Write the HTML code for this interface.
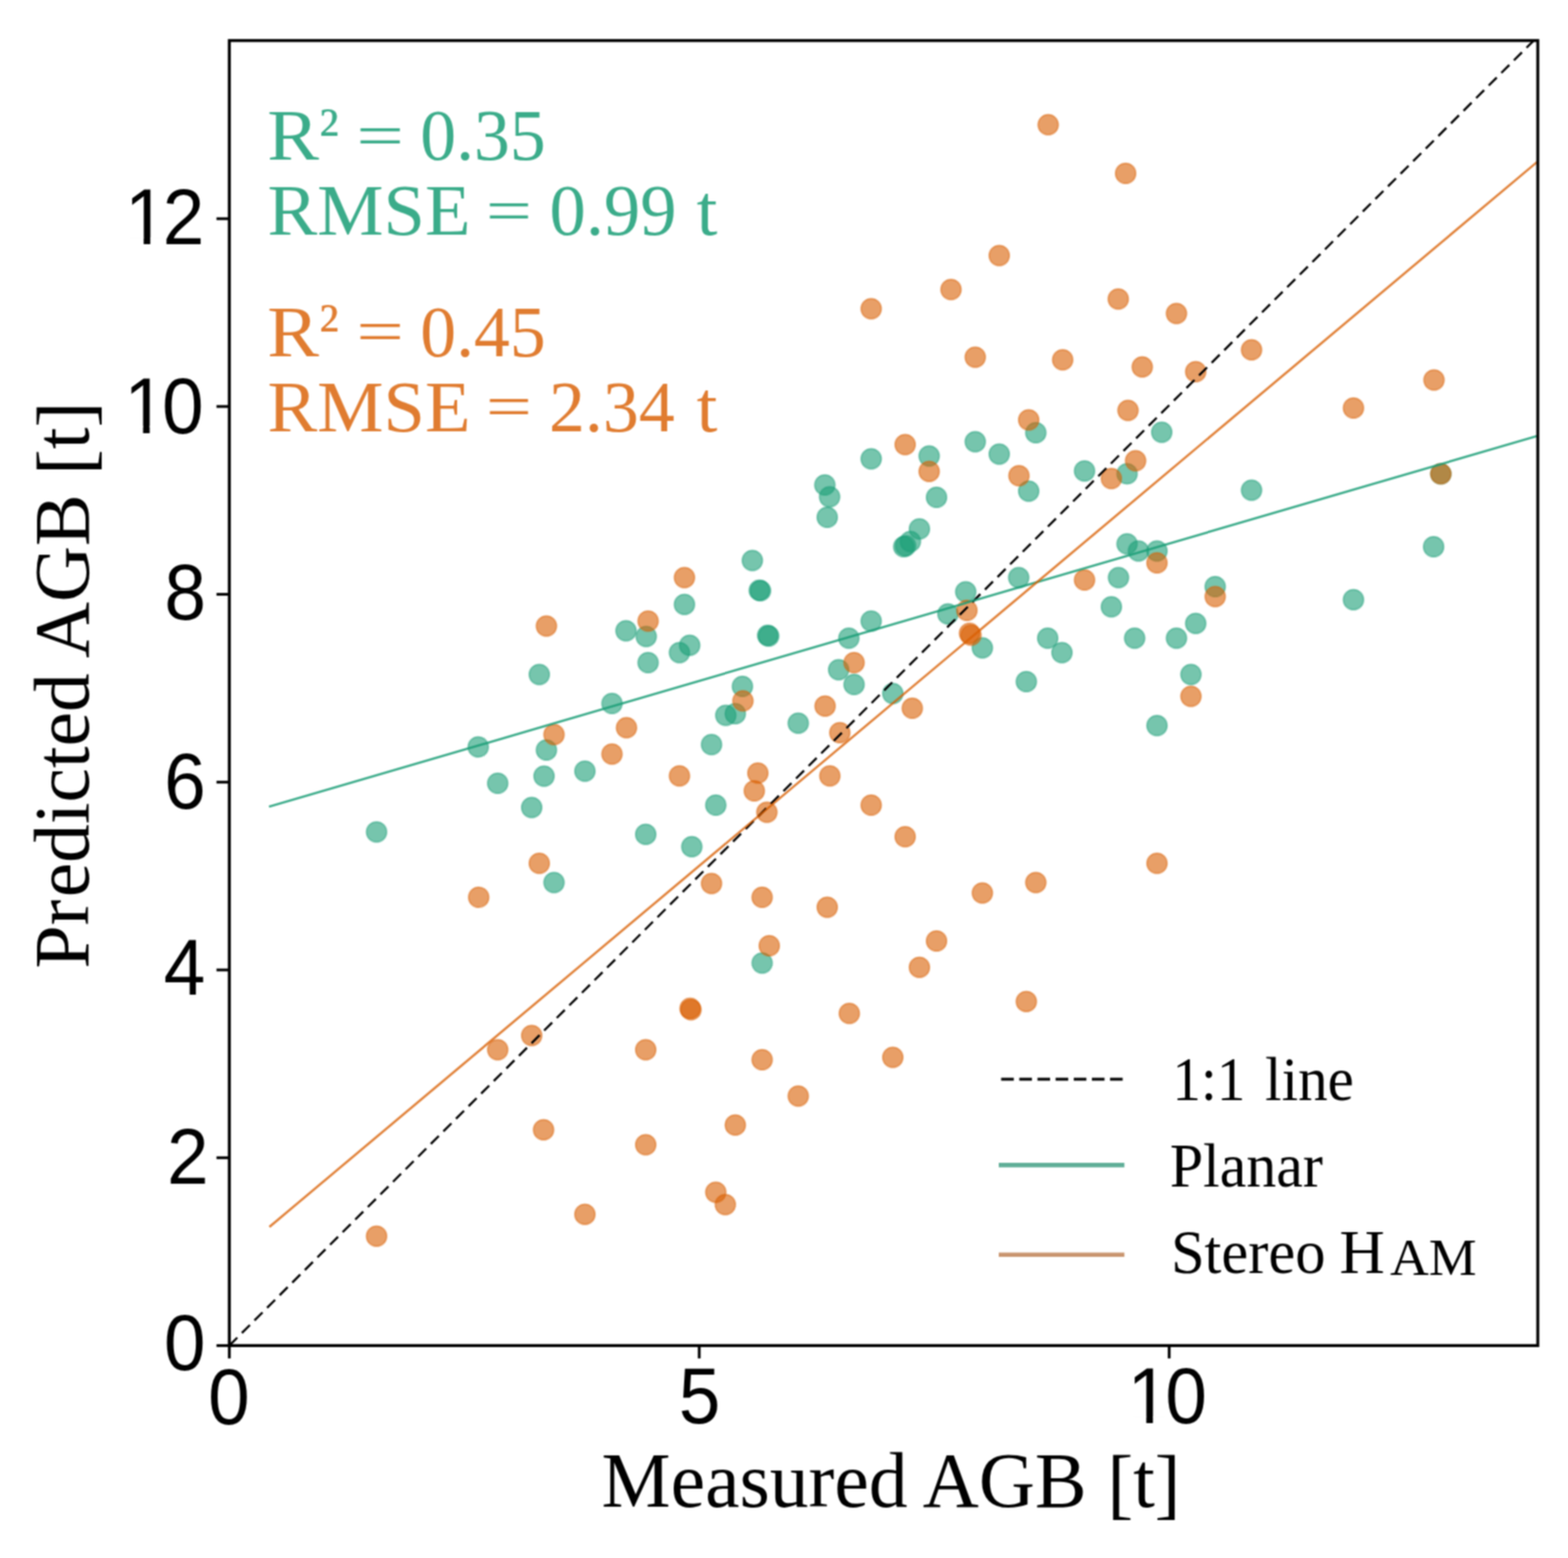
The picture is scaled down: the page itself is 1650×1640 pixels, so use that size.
<!DOCTYPE html>
<html lang="en"><head><meta charset="utf-8">
<title>Predicted vs Measured AGB</title>
<style>
html,body{margin:0;padding:0;background:#fff;}
body{width:1650px;height:1640px;overflow:hidden;}
svg{display:block;}
.tick{font-family:"Liberation Sans",sans-serif;font-size:82.5px;fill:#000;}
.ser{font-family:"Liberation Serif",serif;}
</style></head><body>
<svg xmlns="http://www.w3.org/2000/svg" width="1650" height="1640" viewBox="0 0 1650 1640">
<rect x="0" y="0" width="1650" height="1640" fill="#ffffff"/>
<defs><clipPath id="ax"><rect x="241.3" y="42.7" width="1376.9" height="1373.7"/></clipPath>
<filter id="soft" x="0" y="0" width="1650" height="1640" filterUnits="userSpaceOnUse" color-interpolation-filters="sRGB"><feConvolveMatrix order="3" kernelMatrix="1 2 1 2 4 2 1 2 1" divisor="16" edgeMode="duplicate" preserveAlpha="true"/></filter></defs>
<g filter="url(#soft)">
<rect x="0" y="0" width="1650" height="1640" fill="#ffffff"/>
<g clip-path="url(#ax)">
<g fill="#1b9e77" fill-opacity="0.6" stroke="#1b9e77" stroke-opacity="0.4" stroke-width="1.7">
<circle cx="396.25" cy="875.75" r="10.7"/>
<circle cx="503.25" cy="786.25" r="10.7"/>
<circle cx="523.75" cy="824.5" r="10.7"/>
<circle cx="559.5" cy="850" r="10.7"/>
<circle cx="567.5" cy="710" r="10.7"/>
<circle cx="575" cy="789.5" r="10.7"/>
<circle cx="572.5" cy="817" r="10.7"/>
<circle cx="583" cy="929" r="10.7"/>
<circle cx="615.5" cy="811.75" r="10.7"/>
<circle cx="644" cy="740.5" r="10.7"/>
<circle cx="658.75" cy="664" r="10.7"/>
<circle cx="680" cy="670" r="10.7"/>
<circle cx="682" cy="697.5" r="10.7"/>
<circle cx="679.5" cy="878.25" r="10.7"/>
<circle cx="715" cy="687" r="10.7"/>
<circle cx="725.75" cy="679.25" r="10.7"/>
<circle cx="720.25" cy="636.25" r="10.7"/>
<circle cx="728" cy="891.25" r="10.7"/>
<circle cx="748.75" cy="783.75" r="10.7"/>
<circle cx="753.25" cy="847.5" r="10.7"/>
<circle cx="763.75" cy="753" r="10.7"/>
<circle cx="773.75" cy="751.25" r="10.7"/>
<circle cx="781.25" cy="722.5" r="10.7"/>
<circle cx="791.7" cy="590" r="10.7"/>
<circle cx="799.0" cy="621.4" r="10.7"/>
<circle cx="800.3" cy="621.8" r="10.7"/>
<circle cx="807.8" cy="668.8" r="10.7"/>
<circle cx="808.9" cy="669.5" r="10.7"/>
<circle cx="802" cy="1013.75" r="10.7"/>
<circle cx="840" cy="761.25" r="10.7"/>
<circle cx="868" cy="510.5" r="10.7"/>
<circle cx="873" cy="523" r="10.7"/>
<circle cx="870.5" cy="544.5" r="10.7"/>
<circle cx="882.5" cy="705" r="10.7"/>
<circle cx="893.25" cy="671.75" r="10.7"/>
<circle cx="898.75" cy="720.5" r="10.7"/>
<circle cx="916.75" cy="483" r="10.7"/>
<circle cx="916.75" cy="653.75" r="10.7"/>
<circle cx="939.5" cy="730" r="10.7"/>
<circle cx="951" cy="575.5" r="10.7"/>
<circle cx="953" cy="574.5" r="10.7"/>
<circle cx="958" cy="570" r="10.7"/>
<circle cx="967.5" cy="556.75" r="10.7"/>
<circle cx="977.75" cy="480" r="10.7"/>
<circle cx="985.5" cy="523.5" r="10.7"/>
<circle cx="997.5" cy="646.25" r="10.7"/>
<circle cx="1016.25" cy="623" r="10.7"/>
<circle cx="1026.25" cy="465" r="10.7"/>
<circle cx="1033.75" cy="682" r="10.7"/>
<circle cx="1051.5" cy="478" r="10.7"/>
<circle cx="1072" cy="608" r="10.7"/>
<circle cx="1080" cy="717.5" r="10.7"/>
<circle cx="1082.5" cy="517" r="10.7"/>
<circle cx="1090" cy="455.5" r="10.7"/>
<circle cx="1102.5" cy="671.75" r="10.7"/>
<circle cx="1117.5" cy="687" r="10.7"/>
<circle cx="1141.25" cy="495.75" r="10.7"/>
<circle cx="1169.5" cy="638.75" r="10.7"/>
<circle cx="1177" cy="608" r="10.7"/>
<circle cx="1186" cy="572.5" r="10.7"/>
<circle cx="1186" cy="498.75" r="10.7"/>
<circle cx="1194" cy="671.75" r="10.7"/>
<circle cx="1198" cy="580" r="10.7"/>
<circle cx="1217.5" cy="580" r="10.7"/>
<circle cx="1217.5" cy="763.75" r="10.7"/>
<circle cx="1222.5" cy="455" r="10.7"/>
<circle cx="1238" cy="671.75" r="10.7"/>
<circle cx="1258.25" cy="656.25" r="10.7"/>
<circle cx="1253.25" cy="710" r="10.7"/>
<circle cx="1278.75" cy="617.5" r="10.7"/>
<circle cx="1317" cy="516" r="10.7"/>
<circle cx="1424.25" cy="631.25" r="10.7"/>
<circle cx="1508.6" cy="575.5" r="10.7"/>
<circle cx="1516.2" cy="498.8" r="10.7"/>
</g>
<g fill="#d95f02" fill-opacity="0.6" stroke="#d95f02" stroke-opacity="0.4" stroke-width="1.7">
<circle cx="396.25" cy="1301.25" r="10.7"/>
<circle cx="503.75" cy="944.5" r="10.7"/>
<circle cx="523.75" cy="1105" r="10.7"/>
<circle cx="559.5" cy="1090" r="10.7"/>
<circle cx="567.5" cy="908.75" r="10.7"/>
<circle cx="575" cy="659" r="10.7"/>
<circle cx="572" cy="1189.25" r="10.7"/>
<circle cx="583" cy="773.25" r="10.7"/>
<circle cx="615.5" cy="1278.25" r="10.7"/>
<circle cx="644" cy="793.75" r="10.7"/>
<circle cx="659.25" cy="766" r="10.7"/>
<circle cx="682" cy="653.75" r="10.7"/>
<circle cx="679.5" cy="1105" r="10.7"/>
<circle cx="679.5" cy="1205" r="10.7"/>
<circle cx="715" cy="816.75" r="10.7"/>
<circle cx="726.2" cy="1061.4" r="10.7"/>
<circle cx="727.1" cy="1062.9" r="10.7"/>
<circle cx="720.25" cy="608" r="10.7"/>
<circle cx="748.75" cy="930" r="10.7"/>
<circle cx="753.25" cy="1255" r="10.7"/>
<circle cx="763.25" cy="1268" r="10.7"/>
<circle cx="773.75" cy="1184.25" r="10.7"/>
<circle cx="781.8" cy="737.8" r="10.7"/>
<circle cx="797.5" cy="813.75" r="10.7"/>
<circle cx="793.75" cy="832.5" r="10.7"/>
<circle cx="807" cy="855" r="10.7"/>
<circle cx="802" cy="944.5" r="10.7"/>
<circle cx="809.5" cy="995.5" r="10.7"/>
<circle cx="802" cy="1115.5" r="10.7"/>
<circle cx="840" cy="1153.75" r="10.7"/>
<circle cx="868.25" cy="743.25" r="10.7"/>
<circle cx="873.25" cy="816.75" r="10.7"/>
<circle cx="870.5" cy="955" r="10.7"/>
<circle cx="883.75" cy="771.25" r="10.7"/>
<circle cx="893.75" cy="1066.75" r="10.7"/>
<circle cx="898.75" cy="697.5" r="10.7"/>
<circle cx="916.75" cy="325" r="10.7"/>
<circle cx="916.75" cy="847.5" r="10.7"/>
<circle cx="939.5" cy="1113" r="10.7"/>
<circle cx="952.5" cy="468" r="10.7"/>
<circle cx="952.5" cy="880.75" r="10.7"/>
<circle cx="960" cy="745.5" r="10.7"/>
<circle cx="967.5" cy="1018.25" r="10.7"/>
<circle cx="977.75" cy="496.25" r="10.7"/>
<circle cx="985.5" cy="990.5" r="10.7"/>
<circle cx="1000.75" cy="304.75" r="10.7"/>
<circle cx="1017.5" cy="642.5" r="10.7"/>
<circle cx="1020.2" cy="666.6" r="10.7"/>
<circle cx="1021.8" cy="668.6" r="10.7"/>
<circle cx="1026.25" cy="376" r="10.7"/>
<circle cx="1033.75" cy="940" r="10.7"/>
<circle cx="1051.5" cy="269" r="10.7"/>
<circle cx="1072.25" cy="500.75" r="10.7"/>
<circle cx="1080" cy="1054.25" r="10.7"/>
<circle cx="1082.5" cy="442" r="10.7"/>
<circle cx="1090" cy="929" r="10.7"/>
<circle cx="1103" cy="131.3" r="10.7"/>
<circle cx="1118.25" cy="378.75" r="10.7"/>
<circle cx="1141.25" cy="610.5" r="10.7"/>
<circle cx="1169.5" cy="503.75" r="10.7"/>
<circle cx="1176.75" cy="314.75" r="10.7"/>
<circle cx="1187" cy="432" r="10.7"/>
<circle cx="1184.5" cy="182.5" r="10.7"/>
<circle cx="1195" cy="485" r="10.7"/>
<circle cx="1202" cy="386.25" r="10.7"/>
<circle cx="1217.5" cy="592.5" r="10.7"/>
<circle cx="1217.5" cy="908.75" r="10.7"/>
<circle cx="1238" cy="330" r="10.7"/>
<circle cx="1258.25" cy="391.25" r="10.7"/>
<circle cx="1253.25" cy="733" r="10.7"/>
<circle cx="1278.75" cy="628" r="10.7"/>
<circle cx="1317" cy="368.25" r="10.7"/>
<circle cx="1424.25" cy="429.5" r="10.7"/>
<circle cx="1509.0" cy="400.0" r="10.7"/>
<circle cx="1516.2" cy="498.8" r="10.7"/>
</g>
<line x1="241.3" y1="1416.4" x2="1640.18" y2="16.40" stroke="#000" stroke-width="2.3" stroke-dasharray="11.9 6.85"/>
<line x1="283.1" y1="849.1" x2="1618.6" y2="458.6" stroke="#1b9e77" stroke-opacity="0.85" stroke-width="2.4"/>
<line x1="283.5" y1="1291.5" x2="1618.6" y2="169.6" stroke="#d95f02" stroke-opacity="0.78" stroke-width="2.4"/>
</g>
<rect x="241.3" y="42.7" width="1376.9" height="1373.7" fill="none" stroke="#000" stroke-width="3.1"/>
<g stroke="#000" stroke-width="2.9">
<line x1="241.3" y1="1416.4" x2="241.3" y2="1429.9"/>
<line x1="735.8" y1="1416.4" x2="735.8" y2="1429.9"/>
<line x1="1230.3" y1="1416.4" x2="1230.3" y2="1429.9"/>
<line x1="227.8" y1="1416.4" x2="241.3" y2="1416.4"/>
<line x1="227.8" y1="1218.7" x2="241.3" y2="1218.7"/>
<line x1="227.8" y1="1021.0000000000001" x2="241.3" y2="1021.0000000000001"/>
<line x1="227.8" y1="823.3000000000002" x2="241.3" y2="823.3000000000002"/>
<line x1="227.8" y1="625.6000000000001" x2="241.3" y2="625.6000000000001"/>
<line x1="227.8" y1="427.9000000000001" x2="241.3" y2="427.9000000000001"/>
<line x1="227.8" y1="230.20000000000027" x2="241.3" y2="230.20000000000027"/>
</g>
<text class="tick" transform="translate(0 1498.60) scale(0.955 1)" x="229.41" y="0">0</text>
<text class="tick" transform="translate(0 1497.88) scale(0.955 1)" x="747.82" y="0">5</text>
<text class="tick" transform="translate(0 1498.40) scale(0.955 1)" x="1242.35 1284.01" y="0">10</text>
<rect x="1191.17" y="1491.03" width="15.09" height="8.56" fill="#fff"/>
<rect x="1213.22" y="1491.03" width="14.59" height="8.56" fill="#fff"/>
<text class="tick" transform="translate(0 1442.20) scale(0.955 1)" x="180.72" y="0">0</text>
<text class="tick" transform="translate(0 1246.40) scale(0.955 1)" x="183.97" y="0">2</text>
<text class="tick" transform="translate(0 1047.08) scale(0.955 1)" x="180.36" y="0">4</text>
<text class="tick" transform="translate(0 850.90) scale(0.955 1)" x="180.86" y="0">6</text>
<text class="tick" transform="translate(0 651.80) scale(0.955 1)" x="181.25" y="0">8</text>
<text class="tick" transform="translate(0 455.70) scale(0.955 1)" x="136.91 178.57" y="0">10</text>
<rect x="135.47" y="448.33" width="15.09" height="8.56" fill="#fff"/>
<rect x="157.52" y="448.33" width="14.59" height="8.56" fill="#fff"/>
<text class="tick" transform="translate(0 257.40) scale(0.955 1)" x="137.58 179.24" y="0">12</text>
<rect x="136.11" y="250.04" width="15.09" height="8.56" fill="#fff"/>
<rect x="158.16" y="250.04" width="14.59" height="8.56" fill="#fff"/>
<text class="ser" x="633.0" y="1585.7" font-size="81.7" fill="#000">Measured AGB <tspan dx="1.3" dy="2.8">[</tspan><tspan dy="-2.8">t</tspan><tspan dy="2.8">]</tspan></text>
<text class="ser" transform="translate(93.4 1019.6) rotate(-90)" font-size="81.7" fill="#000">Pr<tspan dx="2.4">edicted AGB </tspan><tspan dx="0" dy="2.8">[</tspan><tspan dy="-2.8">t</tspan><tspan dy="2.8">]</tspan></text>
<text class="ser" font-size="76.5" y="168.4" fill="#1b9e77" fill-opacity="0.86" xml:space="preserve"><tspan x="281.35" textLength="54.42" lengthAdjust="spacingAndGlyphs">R</tspan><tspan x="335.75" dy="-7.60" font-size="70.0">² </tspan><tspan x="374.93" textLength="50.05" lengthAdjust="spacingAndGlyphs" dy="3.00" font-size="62.5">=</tspan><tspan x="423.25" textLength="151.00" lengthAdjust="spacingAndGlyphs" dy="4.60"> 0.35</tspan></text>
<text class="ser" font-size="76.5" y="247.2" fill="#1b9e77" fill-opacity="0.86" xml:space="preserve"><tspan x="281.44" textLength="233.40" lengthAdjust="spacingAndGlyphs">RMSE </tspan><tspan x="511.31" textLength="48.54" lengthAdjust="spacingAndGlyphs" dy="-4.60" font-size="62.5">=</tspan><tspan x="559.20" textLength="152.73" lengthAdjust="spacingAndGlyphs" dy="4.60"> 0.99</tspan><tspan x="713.19" textLength="41.67" lengthAdjust="spacingAndGlyphs"> t</tspan></text>
<text class="ser" font-size="76.5" y="374.7" fill="#d95f02" fill-opacity="0.82" xml:space="preserve"><tspan x="281.35" textLength="54.42" lengthAdjust="spacingAndGlyphs">R</tspan><tspan x="335.75" dy="-7.60" font-size="70.0">² </tspan><tspan x="374.93" textLength="50.05" lengthAdjust="spacingAndGlyphs" dy="3.00" font-size="62.5">=</tspan><tspan x="423.25" textLength="151.00" lengthAdjust="spacingAndGlyphs" dy="4.60"> 0.45</tspan></text>
<text class="ser" font-size="76.5" y="453.5" fill="#d95f02" fill-opacity="0.82" xml:space="preserve"><tspan x="281.44" textLength="233.40" lengthAdjust="spacingAndGlyphs">RMSE </tspan><tspan x="511.31" textLength="48.54" lengthAdjust="spacingAndGlyphs" dy="-4.60" font-size="62.5">=</tspan><tspan x="559.01" textLength="150.97" lengthAdjust="spacingAndGlyphs" dy="4.60"> 2.34</tspan><tspan x="713.19" textLength="41.67" lengthAdjust="spacingAndGlyphs"> t</tspan></text>
<line x1="1053.5" y1="1136" x2="1181.4" y2="1136" stroke="#000" stroke-width="3.2" stroke-dasharray="13.3 5.8"/>
<line x1="1051" y1="1226.4" x2="1183.2" y2="1226.4" stroke="#5fae97" stroke-width="4.6"/>
<line x1="1051" y1="1320.8" x2="1183.2" y2="1320.8" stroke="#c9956f" stroke-width="4.6"/>
<text class="ser" font-size="64.5" y="1157.6" fill="#000" xml:space="preserve"><tspan x="1233.79" textLength="76.65" lengthAdjust="spacingAndGlyphs">1:1</tspan><tspan x="1315.80" textLength="108.86" lengthAdjust="spacingAndGlyphs"> line</tspan></text>
<text class="ser" font-size="64.5" y="1248.9" fill="#000" xml:space="preserve"><tspan x="1230.88" textLength="161.17" lengthAdjust="spacingAndGlyphs">Planar</tspan></text>
<text class="ser" font-size="64.5" y="1340.0" fill="#000" xml:space="preserve"><tspan x="1232.14" textLength="162.69" lengthAdjust="spacingAndGlyphs">Stereo</tspan><tspan x="1393.07" textLength="64.27" lengthAdjust="spacingAndGlyphs"> H</tspan><tspan x="1462.65" textLength="91.21" lengthAdjust="spacingAndGlyphs" dy="1.60" font-size="54.0">AM</tspan></text>
</g>
</svg>
</body></html>
